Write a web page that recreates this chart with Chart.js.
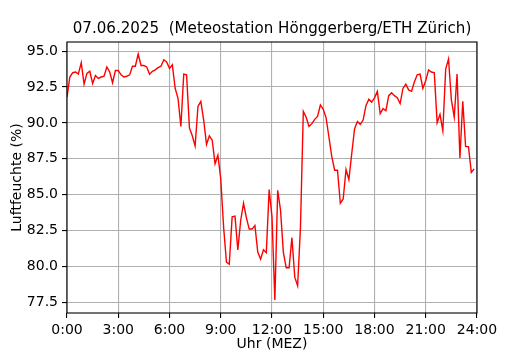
<!DOCTYPE html>
<html>
<head>
<meta charset="utf-8">
<script src="https://cdn.jsdelivr.net/npm/chart.js@4.4.1/dist/chart.umd.min.js"></script>
<style>
  html, body { margin: 0; padding: 0; background: #fff; }
  #wrap { width: 530px; height: 350px; position: relative; }
</style>
</head>
<body>
<div id="wrap"><canvas id="c" width="530" height="350"></canvas></div>
<script>
// Relative humidity (%) every 10 minutes, 0:00 .. 23:50
const humidity = [
  91.8, 93.2, 93.5, 93.55, 93.4, 94.2, 92.7, 93.45, 93.6, 92.75, 93.3, 93.1,
  93.2, 93.25, 93.9, 93.55, 92.8, 93.65, 93.65, 93.35, 93.2, 93.25, 93.35, 93.95,
  93.95, 94.8, 94.0, 94.0, 93.9, 93.4, 93.6, 93.7, 93.85, 93.95, 94.4, 94.25,
  93.8, 94.05, 92.4, 91.7, 89.75, 93.4, 93.35, 89.65, 89.1, 88.4, 91.15, 91.5,
  90.2, 88.5, 89.1, 88.8, 87.15, 87.75, 86.1, 82.75, 80.3, 80.15, 83.45, 83.5,
  81.15, 83.2, 84.4, 83.4, 82.6, 82.6, 82.85, 81.0, 80.5, 81.15, 80.95, 85.35,
  83.45, 77.65, 85.3, 83.9, 80.95, 79.9, 79.9, 82.0, 79.25, 78.65, 82.75, 90.8,
  90.4, 89.75, 89.95, 90.25, 90.45, 91.25, 90.95, 90.35, 89.0, 87.65, 86.7, 86.7,
  84.4, 84.7, 86.75, 86.05, 87.85, 89.6, 90.1, 89.9, 90.2, 91.2, 91.65, 91.45,
  91.75, 92.2, 90.65, 91.0, 90.85, 91.9, 92.1, 91.9, 91.75, 91.35, 92.4, 92.7,
  92.3, 92.2, 92.85, 93.35, 93.4, 92.4, 92.95, 93.7, 93.55, 93.5, 90.0, 90.6,
  89.45, 93.75, 94.45, 91.6, 90.4, 93.4, 87.55, 91.5, 88.35, 88.35, 86.55, 86.8
];
const stepMinutes = 10;
const xTicks = [0, 3, 6, 9, 12, 15, 18, 21, 24];
const xTickLabels = ["0:00", "3:00", "6:00", "9:00", "12:00", "15:00", "18:00", "21:00", "24:00"];
const yTicks = [77.5, 80.0, 82.5, 85.0, 87.5, 90.0, 92.5, 95.0];
const titleText = "07.06.2025  (Meteostation Hönggerberg/ETH Zürich)";
const xTitle = "Uhr (MEZ)";
const yTitle = "Luftfeuchte (%)";

const points = humidity.map((v, i) => ({ x: i * stepMinutes / 60, y: v }));

const FONT = "'DejaVu Sans', sans-serif";

const framePlugin = {
  id: 'frame',
  afterDatasetsDraw(chart) {
    const a = chart.chartArea, ctx = chart.ctx;
    ctx.save();
    ctx.strokeStyle = '#000';
    ctx.lineWidth = 1.1;
    ctx.strokeRect(a.left, a.top, a.right - a.left, a.bottom - a.top);
    ctx.restore();
  },
  afterDraw(chart) {
    const a = chart.chartArea, ctx = chart.ctx;
    ctx.save();
    ctx.fillStyle = '#000';
    ctx.font = "15.1px " + FONT;
    ctx.textAlign = 'center';
    ctx.textBaseline = 'middle';
    ctx.fillText(titleText, (a.left + a.right) / 2, 29);
    ctx.restore();
  }
};

new Chart(document.getElementById('c'), {
  type: 'line',
  data: {
    datasets: [{
      data: points,
      borderColor: '#ff0000',
      borderWidth: 1.4,
      pointRadius: 0,
      tension: 0,
      fill: false
    }]
  },
  options: {
    responsive: false,
    animation: false,
    events: [],
    layout: { padding: { left: 0, right: 53, top: 42, bottom: 0 } },
    plugins: { legend: { display: false }, tooltip: { enabled: false }, title: { display: false } },
    scales: {
      x: {
        type: 'linear',
        min: 0, max: 24,
        afterFit(s) { s.height = 37; },
        afterBuildTicks(s) { s.ticks = xTicks.map(v => ({ value: v })); },
        ticks: {
          color: '#000',
          font: { family: FONT, size: 14 },
          padding: 4,
          maxRotation: 0,
          autoSkip: false,
          callback: (v) => xTickLabels[xTicks.indexOf(v)]
        },
        grid: { color: '#b0b0b0', lineWidth: 1.1, tickColor: '#000', tickLength: 5, drawTicks: true },
        border: { display: false },
        title: { display: true, text: xTitle, color: '#000', font: { family: FONT, size: 14 }, padding: { top: 0, bottom: -3 } }
      },
      y: {
        type: 'linear',
        min: 76.75, max: 95.64,
        afterFit(s) { s.width = 67; },
        afterBuildTicks(s) { s.ticks = yTicks.map(v => ({ value: v })); },
        ticks: {
          color: '#000',
          font: { family: FONT, size: 14 },
          padding: 4,
          autoSkip: false,
          callback: (v) => v.toFixed(1)
        },
        grid: { color: '#b0b0b0', lineWidth: 1.1, tickColor: '#000', tickLength: 5 },
        border: { display: false },
        title: { display: true, text: yTitle, color: '#000', font: { family: FONT, size: 14 }, padding: { top: 9, bottom: 0 } }
      }
    }
  },
  plugins: [framePlugin]
});
</script>
</body>
</html>
